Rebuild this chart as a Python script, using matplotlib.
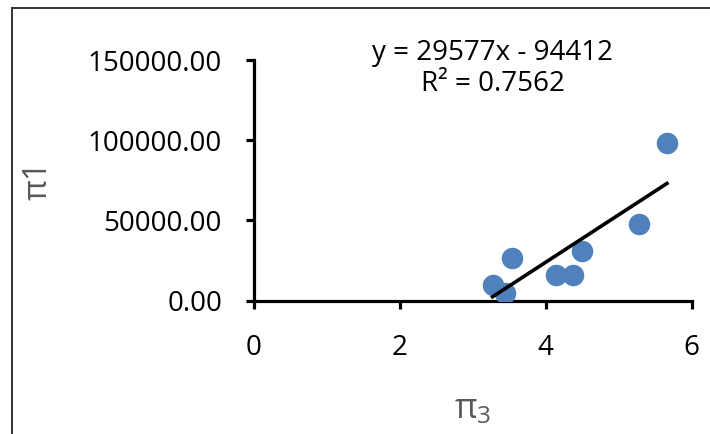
import matplotlib
matplotlib.use("Agg")
import matplotlib.pyplot as plt
from matplotlib.lines import Line2D
import numpy as np

# data
pi3 = [5.66, 5.28, 4.49, 4.37, 4.14, 3.53, 3.27, 3.44]
pi1 = [98400, 47700, 31060, 15900, 15900, 26300, 9670, 4490]
slope = 29577
intercept = -94412
r2 = 0.7562
xticks = [0, 2, 4, 6]
yticks = [0, 50000, 100000, 150000]

plt.rcParams['font.family'] = ['Open Sans', 'DejaVu Sans']
plt.rcParams['mathtext.fontset'] = 'dejavusans'

W, H = 710, 434
fig = plt.figure(figsize=(W / 100, H / 100), dpi=100)
ax = fig.add_axes([254 / W, (H - 300.5) / H, (691.7 - 254) / W, 240.5 / H])

ax.scatter(pi3, pi1, s=240, color='#4F81BD', zorder=3, linewidths=0)
xs = np.array([min(pi3), max(pi3)])
ax.plot(xs, slope * xs + intercept, color='black', lw=2.6, zorder=4)

ax.set_xlim(0, 6)
ax.set_ylim(0, 150000)
ax.set_xticks(xticks)
ax.set_yticks(yticks)
ax.set_xticklabels([str(v) for v in xticks])
ax.set_yticklabels([f"{v:.2f}" for v in yticks])

for s in ['top', 'right']:
    ax.spines[s].set_visible(False)
for s in ['left', 'bottom']:
    ax.spines[s].set_linewidth(2.3)
    ax.spines[s].set_color('black')
ax.tick_params(axis='both', which='major', width=2.3, length=6, direction='out',
               labelsize=20, colors='black')
ax.tick_params(axis='y', pad=17)
ax.tick_params(axis='x', pad=18)

ax.set_xlabel(r'$\mathregular{π_3}$', fontsize=25, color='#595959', labelpad=22)
ax.set_ylabel('π1', fontsize=23, color='#595959', labelpad=24)

ax.text(0.545, 0.965, f"y = {slope}x - {abs(intercept)}\nR² = {r2}",
        transform=ax.transAxes, ha='center', va='center', fontsize=20,
        linespacing=1.15, color='black')

# outer frame (cropped)
fig.add_artist(Line2D([12 / W, 12 / W], [0, 1 - 8 / H], transform=fig.transFigure,
                      color='#333333', lw=1.4))
fig.add_artist(Line2D([12 / W, 1], [1 - 8 / H, 1 - 8 / H], transform=fig.transFigure,
                      color='#333333', lw=1.4))

fig.savefig('out.png', dpi=100)
